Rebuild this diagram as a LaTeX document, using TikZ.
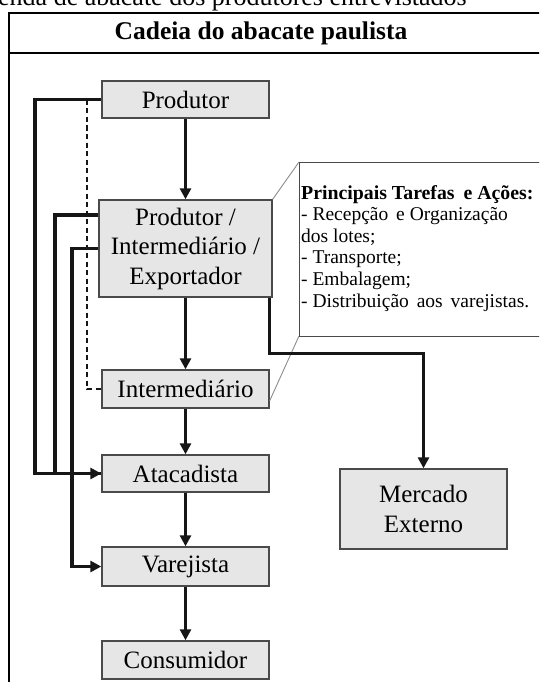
\documentclass[tikz,border=0pt]{standalone}
\usepackage{fontspec}
\setmainfont{Liberation Serif}
\usetikzlibrary{arrows.meta}
\definecolor{boxfill}{HTML}{E6E6E6}
\definecolor{boxline}{HTML}{4A4A4A}
\definecolor{flow}{HTML}{161616}
\definecolor{callout}{HTML}{8C8C8C}

\begin{document}
\begin{tikzpicture}[x=1pt,y=-1pt,
  stage/.style={draw=boxline, fill=boxfill, line width=1.4pt, inner sep=0pt,
    minimum width=167pt, align=center, font=\fontsize{25}{29.5}\selectfont},
  flowline/.style={draw=flow, line width=3.5pt},
  arr/.style={-{Triangle[length=11pt,width=11pt]}},
  tasktext/.style={anchor=base west, inner sep=0pt, font=\fontsize{19.5}{21.6}\selectfont},
  dashline/.style={draw=flow, line width=1.1pt, dash pattern=on 5pt off 3.5pt}]

\clip (0,0) rectangle (539,682);

% caption line above the frame and the outer frame
\node[font=\fontsize{26}{30}\selectfont, anchor=base west, inner sep=0pt] (cap) at (-2,6)
  {enda de abacate dos produtores entrevistados};
\draw[line width=1.3pt] (9,700) -- (9,13) -- (560,13);
\draw[line width=2pt] (9,53.3) -- (560,53.3);
\node[font=\bfseries\fontsize{25.5}{30}\selectfont, anchor=base, inner sep=0pt] (title) at (261,39.5)
  {Cadeia do abacate paulista};

% chain stages
\node[stage, minimum height=37pt] (prod) at (185.5,99.5) {Produtor};
\node[stage, minimum width=173pt, minimum height=97pt] (pie) at (185.5,248.5)
  {Produtor /\\Intermediário /\\Exportador};
\node[stage, minimum height=38pt] (inter) at (185.5,389) {Intermediário};
\node[stage, minimum height=37pt] (atac) at (185.5,473.5) {Atacadista};
\node[stage, minimum height=39pt] (varej) at (185.5,566.5) {Varejista};
\node[stage, minimum height=38pt] (cons) at (185.5,660) {Consumidor};
\node[stage, minimum height=80pt] (merc) at (423.5,509) {Mercado\\Externo};

% tasks callout
\coordinate (tasknw) at (299,162);
\coordinate (tasksw) at (299,336);
\draw[callout, line width=0.9pt] (tasknw) -- (pie.north east);
\draw[callout, line width=0.9pt] (tasksw) -- ([yshift=8pt]inter.south east);
\node[draw=boxline, line width=1.4pt, fill=white, anchor=north west, inner sep=0pt,
  minimum width=260pt, minimum height=174pt] (tasks) at (tasknw) {};
\node[tasktext, font=\bfseries\fontsize{19.8}{21.6}\selectfont] (t1) at (301,199)
  {Principais Tarefas\hspace{4pt} e Ações:};
\node[tasktext] (t2) at (301,220.6) {- Recepção\hspace{3pt} e Organização};
\node[tasktext] (t3) at (301,242.2) {dos lotes;};
\node[tasktext] (t4) at (301,263.8) {- Transporte;};
\node[tasktext] (t5) at (301,285.4) {- Embalagem;};
\node[tasktext] (t6) at (301,307) {- Distribuição\hspace{3pt} aos\hspace{3pt} varejistas.};

% main vertical flow
\draw[flowline, arr] (prod.south) -- (pie.north);
\draw[flowline, arr] (pie.south) -- (inter.north);
\draw[flowline, arr] (inter.south) -- (atac.north);
\draw[flowline, arr] (atac.south) -- (varej.north);
\draw[flowline, arr] (varej.south) -- (cons.north);

% export branch
\draw[flowline, arr] ([xshift=-3pt]pie.south east) -- ++(0,56) -| (merc.north);

% bypass routes on the left
\coordinate (dashtop) at (87,100);
\draw[dashline] (dashtop) |- (inter.west);
\draw[flowline, arr] (prod.west) -- (35,99.5) |- (atac.west);
\draw[flowline] ([yshift=33.5pt]pie.west) -- (55,215) |- (atac.west);
\draw[flowline, arr] (pie.west) -- (72,248.5) |- (varej.west);
\end{tikzpicture}
\end{document}
